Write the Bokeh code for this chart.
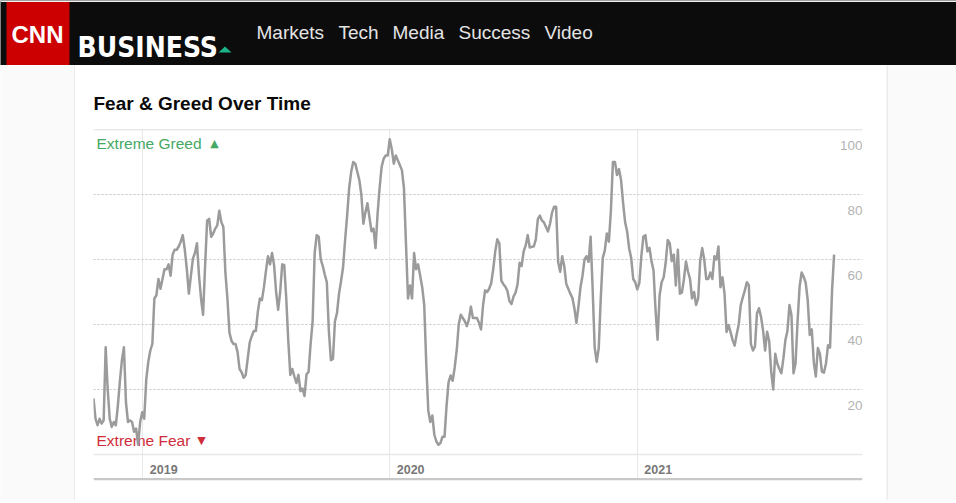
import pandas as pd
from bokeh.plotting import figure
from bokeh.layouts import column, row
from bokeh.models import Range1d, Grid, FixedTicker, Span, ColumnDataSource
from bokeh.core.properties import value
from bokeh.embed import file_html
from bokeh.resources import INLINE

# ---------------- data ----------------
fg_values = [
    17.3, 11, 9, 11, 9.5, 10.5, 33, 20, 11, 8.5,
    10, 9, 15, 22.5, 29, 33, 16, 10, 10.5, 10,
    7, 8, 3, 10, 13, 11, 23, 28.5, 32, 34,
    48, 49, 54, 51, 54, 57, 57, 58.5, 55, 61.5,
    63, 63, 64, 65.5, 67.5, 63, 57, 49.5, 55, 60.3,
    62, 65, 55, 48, 43, 58, 72, 72.5, 67, 68,
    69.5, 70.5, 75, 71.5, 70, 56, 48, 37.5, 35, 34,
    34, 31.5, 26.3, 25.3, 23.6, 24.4, 29.5, 34.5, 36.4, 38,
    38, 44, 48, 47.5, 51.5, 56.5, 61, 58.5, 62, 58.3,
    50, 44.5, 50, 58.5, 58.3, 48, 35, 24.5, 26.3, 24,
    22, 24.5, 19.5, 20.3, 18, 24.7, 25.4, 34, 41, 62,
    67.5, 67, 60, 58, 55.3, 53, 38, 29, 29.4, 41,
    43.5, 49.5, 53.3, 57.6, 66, 73.5, 82, 87, 90, 89.5,
    87, 84.5, 80, 71, 74.5, 77.3, 73, 68.7, 69.5, 63.5,
    74, 82, 88.5, 91, 92, 92, 97,
    94, 89.5, 92, 90.5, 89, 87.5, 82, 65, 48, 52,
    48, 62, 57, 58.5, 55, 51.5, 46, 28, 13.5, 10,
    12, 6, 4, 3, 3.5, 5.5, 5.5, 15, 22.3, 24.3,
    22.7, 26.7, 32, 40, 43, 42, 41, 39.5, 41.5, 45.5,
    42, 42, 42, 40.5, 38.5, 46, 50.5, 50, 51, 52.7,
    57, 62.5, 66.2, 65, 53.5, 52.4, 51.6, 50.3, 47.2, 46.3,
    48.6, 49.8, 52.4, 59, 58, 62.5, 64.3, 67.5, 63.7, 63.9,
    64, 66.2, 72.4, 73.5, 72, 71.4, 70, 68.6, 71, 74.5,
    76.2, 76.2, 59.2, 56.2, 61, 58, 52.5, 51, 49.5, 48.2,
    45, 40.5, 45.5, 51.4, 55, 60, 61, 59.3, 67, 51,
    33, 28.5, 32.7, 48, 60.5, 62.8, 68, 65.5, 75, 90,
    90, 86, 87.8, 84.5, 77.5, 71.5, 68.6, 63.4, 60.5, 54,
    53, 50.8, 52.7, 61, 67, 67.5, 62.5, 63.6, 59.5, 56.7,
    44.5, 35.3, 49, 53, 54.5, 59, 66, 65, 59.5, 61.5, 52, 63, 49.5,
    49.8, 54, 59.4, 56.3, 54, 48, 50, 46, 48, 59.5,
    63.5, 60, 54, 54, 56, 54, 61, 60, 64, 51.5,
    54.5, 49.5, 37.7, 39.8, 37.6, 35.2, 33.5, 37, 40, 46,
    48.3, 50.5, 53, 52, 34, 32, 33.2, 43.5, 45, 42.3,
    38.2, 32, 37.8, 35, 25.5, 20, 31, 28, 26.4, 25,
    29.5, 35.2, 38, 46, 42.8, 25, 28, 41, 51.6, 56,
    54.7, 52.9, 47.5, 36.8, 38.5, 28.4, 24, 32.8, 31, 25.5,
    25.2, 28, 33.6, 32.9, 50.5, 61.5,
]
first_date = "2018-10-20"
sample_step = "3D"
axis_start = "2018-10-20"
axis_end = "2021-11-30"
year_ticks = ["2019-01-01", "2020-01-01", "2021-01-01"]
year_labels = ["2019", "2020", "2021"]
y_grid_ticks = [20, 40, 60, 80]
y_label_values = [20, 40, 60, 80, 100]
y_labels = ["20", "40", "60", "80", "100"]
nav_items = ["Markets", "Tech", "Media", "Success", "Video"]

SANS = value("Liberation Sans")
PAGE = "#fafafa"
EDGE = "#dddddd"
common = dict(toolbar_location=None, output_backend="svg", x_axis_type=None,
              y_axis_type=None, outline_line_color=None)

# ---------------- header bar ----------------
hdr = figure(width=956, height=65, x_range=Range1d(0, 956), y_range=Range1d(65, 0),
             min_border=0, background_fill_color="#0c0c0c", border_fill_color="#0c0c0c", **common)
hdr.quad(left=0, right=956, top=0, bottom=1.5, fill_color="#f2f2f2", line_color=None)
hdr.quad(left=6, right=69, top=1.5, bottom=65, fill_color="#cc0000", line_color=None)
hdr.text(x=37, y=34, text=["CNN"], text_align="center", text_baseline="middle",
         text_font=SANS, text_font_style="bold", text_font_size="24px", text_color="white")
hdr.text(x=77, y=47, text=["BUSINESS"], text_align="left", text_baseline="alphabetic",
         text_font=value("DejaVu Sans Condensed"),
         text_font_style="bold", text_font_size="28px", text_color="white")
hdr.patch(x=[218, 231, 224.5], y=[52, 52, 46], fill_color="#1db48a", line_color=None)
nav_x = [256, 338, 392, 458, 544]
hdr.text(x=nav_x, y=[32] * len(nav_items), text=nav_items, text_align="left",
         text_baseline="middle", text_font=SANS, text_font_size="19px", text_color="#e4e4e4")

# ---------------- side strips of the page ----------------
left = figure(width=75, height=435, x_range=Range1d(0, 75), y_range=Range1d(500, 65),
              min_border=0, background_fill_color=PAGE, border_fill_color=PAGE, **common)
left.segment(x0=74.5, y0=65, x1=74.5, y1=500, line_color=EDGE, line_width=1)
right = figure(width=70, height=435, x_range=Range1d(886, 956), y_range=Range1d(500, 65),
               min_border=0, background_fill_color=PAGE, border_fill_color=PAGE, **common)
right.segment(x0=886.5, y0=65, x1=886.5, y1=500, line_color=EDGE, line_width=1)

# ---------------- card title ----------------
ttl = figure(width=811, height=62, x_range=Range1d(93, 862), y_range=Range1d(127, 65),
             min_border_left=18, min_border_right=24, min_border_top=0, min_border_bottom=0,
             background_fill_color="white", border_fill_color="white", **common)
ttl.text(x=93, y=103, text=["Fear & Greed Over Time"], text_baseline="middle",
         text_font=SANS, text_font_style="bold", text_font_size="19px", text_color="#0a0a0a")

# ---------------- chart ----------------
x0 = pd.Timestamp(axis_start)
x1 = pd.Timestamp(axis_end)
dates = pd.date_range(first_date, periods=len(fg_values), freq=sample_step)
src = ColumnDataSource(dict(date=dates, fg=fg_values))

chart = figure(width=811, height=373, x_range=Range1d(x0, x1), y_range=Range1d(-8, 100),
               min_border_left=18, min_border_right=24, min_border_top=2, min_border_bottom=20,
               background_fill_color="white", border_fill_color="white", **common)

year_ms = [pd.Timestamp(d).value / 1e6 for d in year_ticks]
chart.add_layout(Grid(dimension=0, ticker=FixedTicker(ticks=year_ms),
                      grid_line_color="#e8e8e8", grid_line_width=1))
chart.add_layout(Grid(dimension=1, ticker=FixedTicker(ticks=y_grid_ticks),
                      grid_line_color="#c4c4c4", grid_line_width=1, grid_line_dash="2 2"))
chart.add_layout(Span(location=100, dimension="width", line_color="#d2d2d2", line_width=1.5))
chart.add_layout(Span(location=0, dimension="width", line_color="#e8e8e8", line_width=1.5))
chart.add_layout(Span(location=-7.6, dimension="width", line_color="#c8c8c8", line_width=2.5))

ylab = ColumnDataSource(dict(x=[x1] * len(y_labels), y=y_label_values, t=y_labels))
chart.text(x="x", y="y", text="t", source=ylab, text_align="right", text_baseline="middle",
           y_offset=16, text_font=SANS, text_font_size="13.5px", text_color="#b3b3b3")

xlab = ColumnDataSource(dict(x=[pd.Timestamp(d) for d in year_ticks], t=year_labels))
chart.text(x="x", y=-4.5, text="t", source=xlab, text_align="left", text_baseline="middle",
           x_offset=7, text_font=SANS, text_font_style="bold", text_font_size="12.5px",
           text_color="#777777")

green = "#45a865"
red = "#cf2d3a"
chart.text(x=[x0], y=[100], text=["Extreme Greed"], x_offset=3, y_offset=14,
           text_baseline="middle", text_font=SANS, text_font_size="15.5px", text_color=green)
chart.text(x=[x0], y=[100], text=["▲"], x_offset=121, y_offset=14, text_align="center",
           text_baseline="middle", text_font=value("DejaVu Sans"), text_font_size="11px",
           text_color=green)
chart.text(x=[x0], y=[0], text=["Extreme Fear"], x_offset=3, y_offset=-14,
           text_baseline="middle", text_font=SANS, text_font_size="15.5px", text_color=red)
chart.text(x=[x0], y=[0], text=["▼"], x_offset=108, y_offset=-14, text_align="center",
           text_baseline="middle", text_font=value("DejaVu Sans"), text_font_size="11px",
           text_color=red)

chart.line(x="date", y="fg", source=src, line_color="#9b9b9b", line_width=2.5,
           line_join="round")

# ---------------- bottom edge of the card ----------------
foot = figure(width=956, height=3, x_range=Range1d(0, 956), y_range=Range1d(503, 500),
              min_border=0, background_fill_color=PAGE, border_fill_color=PAGE, **common)
foot.segment(x0=74.5, y0=500.5, x1=886.5, y1=500.5, line_color=EDGE, line_width=1)
foot.quad(left=75, right=886, top=500, bottom=500.5, fill_color="white", line_color=None)

page = column(hdr, row(left, column(ttl, chart), right), foot)

open("out.html", "w").write(file_html(page, INLINE))
